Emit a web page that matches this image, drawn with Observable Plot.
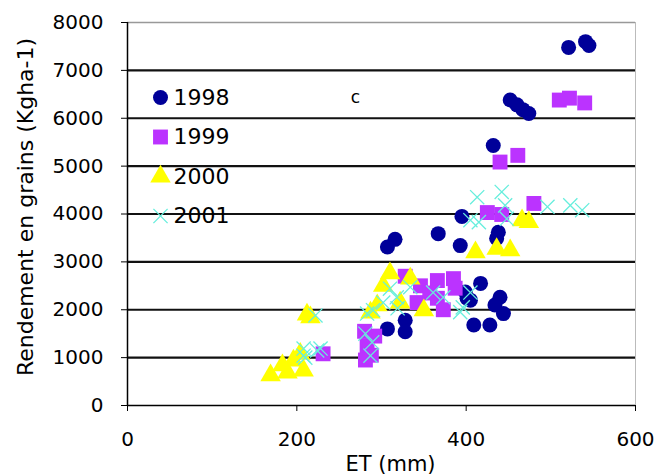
<!DOCTYPE html>
<html><head><meta charset="utf-8">
<script src="https://cdn.jsdelivr.net/npm/d3@7"></script>
<script src="https://cdn.jsdelivr.net/npm/@observablehq/plot@0.6"></script>
<style>body{margin:0;background:#fff}</style>
</head><body><div id="chart"></div>
<script>
const years = ["1998", "1999", "2000", "2001"];
const et1998 = [521,541,545,452,460,467,474,432,395,438,436,367,393,316,307,417,440,444,428,409,405,399,434,328,328,307,401];
const y1998  = [7480,7600,7520,6380,6280,6180,6100,5430,3950,3620,3490,3590,3340,3470,3310,2550,2260,1920,1680,1680,2200,2370,2100,1780,1540,1600,2240];
const et1999 = [510,522,540,440,461,425,442,480,328,346,366,385,366,373,342,387,357,280,292,283,288,281,231];
const y1999  = [6380,6420,6320,5085,5225,4030,3990,4220,2700,2500,2610,2650,2240,2000,2150,2450,2350,1550,1450,1250,1050,950,1080];
const et2000 = [169,183,196,204,208,189,212,216,310,334,302,295,322,287,350,411,436,452,474,466];
const y2000  = [630,840,940,1080,730,690,1900,1840,2760,2650,2500,2090,2150,1940,1990,3200,3270,3240,3830,3870];
const et2001 = [208,228,210,222,224,208,289,287,281,283,310,334,361,302,290,319,393,405,318,373,396,413,442,446,448,405,415,496,523,537];
const y2001  = [1190,1190,1000,1880,1150,1040,1320,1040,1500,1920,2440,2470,2360,2150,1990,2030,1950,2360,2260,2260,2050,4350,4460,4180,3900,3870,3830,4150,4180,4080];
const yTicks = [0,1000,2000,3000,4000,5000,6000,7000,8000];
const xTicks = [0,200,400,600];
const yLabel = "Rendement en grains (Kgha-1)";
const xLabel = "ET (mm)";
const panelLabel = "c";

const seriesEt = [et1998, et1999, et2000, et2001];
const seriesY = [y1998, y1999, y2000, y2001];
const styles = [
  {symbol: "circle", fill: "#000099", r: 7.5},
  {symbol: "square", fill: "#bb33ff", r: 8.4},
  {symbol: "triangle", fill: "#ffff00", r: 7.6},
  {symbol: "times", stroke: "#66eedd", r: 6.5, strokeWidth: 1.3}
];
const data = years.flatMap((yr, k) => seriesEt[k].map((e, i) => ({year: yr, et: e, yield: seriesY[k][i]})));

const marks = [
  Plot.ruleY(yTicks.filter(t => t > 0 && t < 8000), {stroke: "#111", strokeWidth: 2.2}),
  Plot.ruleY([8000], {stroke: "#999", strokeWidth: 1.5}),
  Plot.ruleX([600], {stroke: "#bbb", strokeWidth: 1}),
  Plot.ruleX([0], {stroke: "#000", strokeWidth: 1.5}),
  Plot.ruleY([0], {stroke: "#000", strokeWidth: 1.5}),
  Plot.axisY({ticks: yTicks, tickSize: 6, tickPadding: 18, label: null, tickFormat: d => String(d)}),
  Plot.axisX({ticks: xTicks, tickSize: 6, tickPadding: 20, label: null, tickFormat: d => String(d)}),
];
years.forEach((yr, k) => {
  const s = styles[k];
  marks.push(Plot.dot(data.filter(d => d.year === yr), {x: "et", y: "yield", ...s}));
  marks.push(Plot.dot([yr], {frameAnchor: "top-left", dx: 33, dy: 75 + k * 39.5, ...s}));
  marks.push(Plot.text([yr], {frameAnchor: "top-left", dx: 46, dy: 75 + k * 39.5, textAnchor: "start", lineAnchor: "middle", fontSize: 22}));
});
marks.push(Plot.text([panelLabel], {frameAnchor: "top-left", dx: 228, dy: 75, textAnchor: "middle", lineAnchor: "middle", fontSize: 17}));
marks.push(Plot.text([yLabel], {frameAnchor: "left", dx: -102, dy: -7, rotate: -90, textAnchor: "middle", lineAnchor: "middle", fontSize: 22}));
marks.push(Plot.text([xLabel], {frameAnchor: "bottom", dx: 9, dy: 59, textAnchor: "middle", lineAnchor: "middle", fontSize: 21}));

const chart = Plot.plot({
  width: 661, height: 476,
  marginLeft: 127, marginRight: 26, marginTop: 22, marginBottom: 71,
  x: {domain: [0, 600]},
  y: {domain: [0, 8000]},
  style: {fontFamily: "DejaVu Sans, sans-serif", fontSize: "20px", color: "#000", background: "#fff"},
  marks
});
document.getElementById("chart").appendChild(chart);
</script>
</body></html>
